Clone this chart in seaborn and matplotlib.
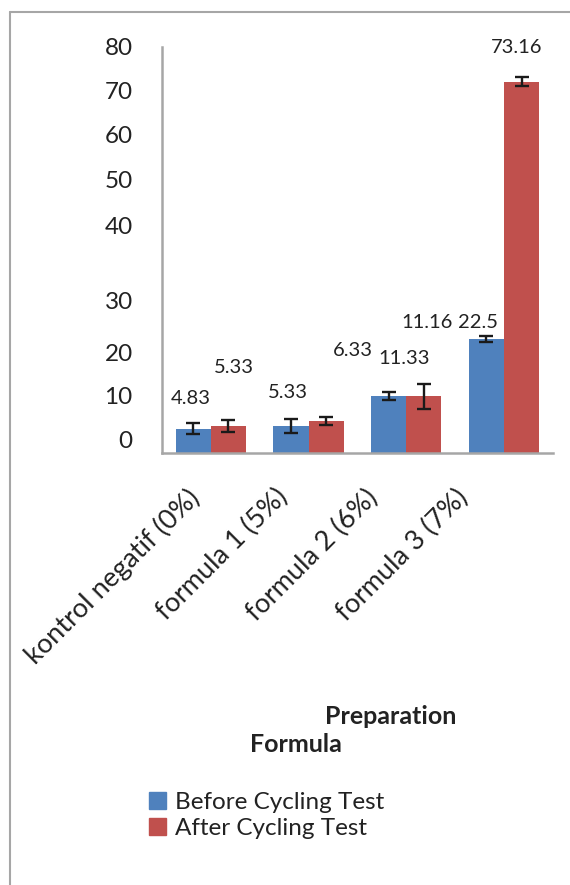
import pandas as pd
import matplotlib
matplotlib.use("Agg")
import matplotlib.pyplot as plt
import seaborn as sns
from matplotlib.lines import Line2D
from matplotlib.transforms import ScaledTranslation

# -------------------- Data --------------------
formulas = ["kontrol negatif (0%)", "formula 1 (5%)", "formula 2 (6%)", "formula 3 (7%)"]
series = ["Before Cycling Test", "After Cycling Test"]
before = [4.83, 5.33, 11.33, 22.5]
after = [5.33, 6.33, 11.16, 73.16]
before_err = [1.1, 1.45, 0.8, 0.55]
after_err = [1.1, 0.8, 2.4, 0.9]
ytick_labels = ["0", "10", "20", "30", "40", "50", "60", "70", "80"]

# layout of the scanned chart (tick labels and value labels sit off their nominal spots)
ytick_pos = [2.6, 11.4, 19.9, 30.1, 44.9, 53.8, 62.7, 71.5, 80]
before_lbl_off = [(-0.02, 6.0), (-0.03, 6.6), (0.16, 7.4), (-0.09, 3.3)]
after_lbl_off = [(0.06, 11.6), (0.27, 13.8), (0.03, 14.6), (-0.05, 6.7)]
xlabel_shift = [-15, -25, -32, -40]

df = pd.DataFrame({
    "formula": formulas * 2,
    "series": [series[0]] * 4 + [series[1]] * 4,
    "value": before + after,
})

# -------------------- Plot --------------------
sns.set_style("white")
plt.rcParams["font.family"] = ["Lato", "DejaVu Sans"]
colors = {series[0]: "#4f81bd", series[1]: "#c0504d"}
text_col = "#222222"

fig = plt.figure(figsize=(5.7, 8.85), dpi=100)
ax = fig.add_axes([0.284, 0.488, 0.686, 0.459])

sns.barplot(data=df, x="formula", y="value", hue="series", palette=colors,
            width=0.72, saturation=1, errorbar=None, legend=False,
            linewidth=0, ax=ax)

ax.set_xlim(-0.5, 3.5)
ax.set_ylim(0, 80)

blue_bars = sorted([p for p in ax.patches if p.get_facecolor()[2] > 0.6], key=lambda p: p.get_x())
red_bars = sorted([p for p in ax.patches if p.get_facecolor()[2] <= 0.6], key=lambda p: p.get_x())

for group, errs, offs, vals in [(blue_bars, before_err, before_lbl_off, before),
                                (red_bars, after_err, after_lbl_off, after)]:
    xs = [p.get_x() + p.get_width() / 2 for p in group]
    hs = [p.get_height() for p in group]
    ax.errorbar(xs, hs, yerr=errs, fmt="none", ecolor="#1a1a1a",
                elinewidth=1.7, capsize=5, capthick=1.7)
    for x, h, (dx, dy), v in zip(xs, hs, offs, vals):
        ax.text(x + dx, h + dy, f"{v:g}", ha="center", va="center",
                fontsize=14.5, color=text_col)

ax.set_yticks(ytick_pos)
ax.set_yticklabels(ytick_labels, fontsize=17.5, color=text_col)
ax.tick_params(axis="y", length=0, pad=21)
ax.tick_params(axis="x", length=0, pad=29)
ax.set_xticks(range(len(formulas)))
ax.set_xticklabels(formulas, rotation=45, ha="right", rotation_mode="anchor",
                   va="center", fontsize=19.5, color=text_col)
for lbl, sh in zip(ax.get_xticklabels(), xlabel_shift):
    lbl.set_transform(lbl.get_transform() + ScaledTranslation(sh / 100, 0, fig.dpi_scale_trans))

ax.set_xlabel("")
ax.set_ylabel("")
for side in ["top", "right"]:
    ax.spines[side].set_visible(False)
for side in ["left", "bottom"]:
    ax.spines[side].set_color("#a6a6a6")
    ax.spines[side].set_linewidth(1.8)

# axis title split over two lines
fig.text(391 / 570, 1 - 717 / 885, "Preparation", ha="center", va="center",
         fontsize=18, fontweight="bold", color=text_col)
fig.text(296 / 570, 1 - 745 / 885, "Formula", ha="center", va="center",
         fontsize=18, fontweight="bold", color=text_col)

handles = [plt.Rectangle((0, 0), 1, 1, color=colors[s]) for s in series]
fig.legend(handles, series, loc="upper left", bbox_to_anchor=(0.262, 1 - 792 / 885),
           frameon=False, fontsize=17.5, handlelength=0.7, handleheight=0.7,
           handletextpad=0.35, labelspacing=0.22, borderaxespad=0, borderpad=0,
           labelcolor=text_col)

# chart area border (only top and left edges visible in the scan)
fig.add_artist(Line2D([10 / 570, 1], [1 - 12 / 885, 1 - 12 / 885], color="#a6a6a6", lw=1.5))
fig.add_artist(Line2D([10 / 570, 10 / 570], [0, 1 - 12 / 885], color="#a6a6a6", lw=1.5))

fig.savefig("out.png", dpi=100)
plt.close(fig)
